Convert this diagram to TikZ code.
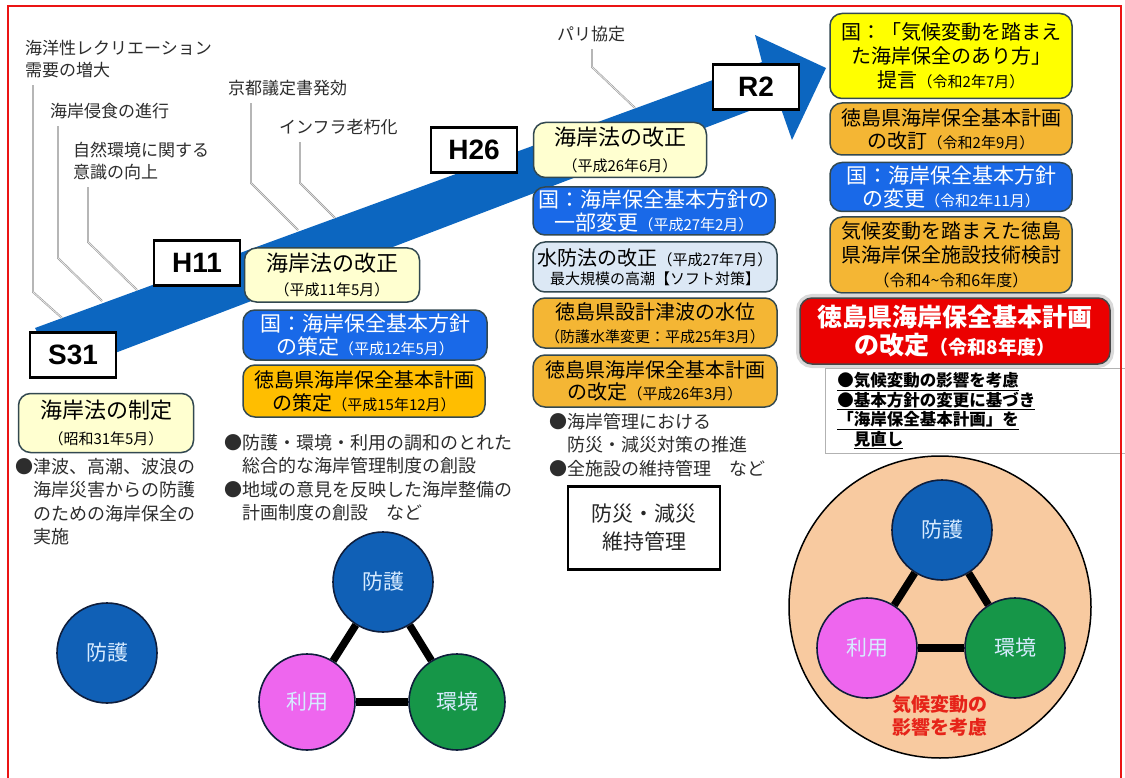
\documentclass[tikz,border=0pt]{standalone}
\usepackage{fontspec}
\setmainfont{Noto Sans CJK JP}
\newfontfamily\yearfont{Liberation Sans}
\usetikzlibrary{calc}

\definecolor{arrowblue}{RGB}{12,102,192}
\definecolor{framered}{RGB}{235,20,20}
\definecolor{lawyellow}{RGB}{255,255,208}
\definecolor{kuniblue}{RGB}{25,105,232}
\definecolor{kenorange}{RGB}{255,190,0}
\definecolor{kenorangeB}{RGB}{244,182,52}
\definecolor{suiboublue}{RGB}{220,232,245}
\definecolor{teigenyellow}{RGB}{255,255,0}
\definecolor{kaiteired}{RGB}{235,0,0}
\definecolor{boxline}{RGB}{50,72,80}
\definecolor{textgray}{RGB}{45,45,45}
\definecolor{bougoblue}{RGB}{16,96,182}
\definecolor{riyoupink}{RGB}{238,102,238}
\definecolor{kankyougreen}{RGB}{22,150,72}
\definecolor{kikoubeige}{RGB}{248,202,160}
\definecolor{circletext}{RGB}{215,235,255}
\definecolor{circleline}{RGB}{15,30,60}
\definecolor{kikoured}{RGB}{230,35,25}

\newcommand\fsz[2]{\fontsize{#1}{#2}\selectfont}

\begin{document}
\begin{tikzpicture}[x=1pt,y=-1pt,
  yearbox/.style={draw=black,line width=2.4pt,fill=white,minimum width=86pt,
    minimum height=45pt,inner sep=0pt,font=\yearfont\bfseries\fsz{28}{28}},
  planbox/.style={rounded corners=12pt,draw=boxline,line width=1.5pt,
    align=center,inner sep=0pt},
  trend/.style={font=\fsz{17}{22},text=textgray,align=left,inner sep=0pt,anchor=west},
  leader/.style={draw=gray!80,double=gray!15,double distance=0.7pt,line width=0.6pt},
  bullets/.style={font=\fsz{18}{23.5},text=textgray,align=left,inner sep=0pt,
    anchor=north west},
  value/.style={circle,draw=circleline,line width=1.6pt,minimum size=100pt,
    inner sep=0pt,text=circletext,font=\fsz{21}{21}},
  tie/.style={line width=7.5pt}]
\useasboundingbox (0,0) rectangle (1125,778);
\fill[white] (0,0) rectangle (1125,778);

% the time line
\fill[arrowblue] (35,328) -- (762,62) -- (755,35) -- (826,68) -- (792,140)
  -- (778,100) -- (60,374) -- cycle;

% background trends
\node[trend] (recreation) at (25,59) {海洋性レクリエーション\\需要の増大};
\node[trend] (erosion) at (50,111) {海岸侵食の進行};
\node[trend] (awareness) at (73,161) {自然環境に関する\\意識の向上};
\node[trend] (kyoto) at (228,88) {京都議定書発効};
\node[trend] (infra) at (279,127) {インフラ老朽化};
\node[trend] (paris) at (557,34) {パリ協定};

\coordinate (recreationBend) at (33,292);  \coordinate (recreationEnd) at (62,318);
\coordinate (erosionBend) at (58,258);     \coordinate (erosionEnd) at (102,301);
\coordinate (awarenessBend) at (88,242);   \coordinate (awarenessEnd) at (137,290);
\coordinate (kyotoBend) at (251,183);      \coordinate (kyotoEnd) at (298,230);
\coordinate (infraBend) at (300,183);      \coordinate (infraEnd) at (335,218);
\coordinate (parisBend) at (592,67);       \coordinate (parisEnd) at (635,108);

\foreach \t in {recreation,erosion,awareness,kyoto,infra,paris}
  \draw[leader] ($(\t.south -| \t Bend)+(0,7)$) -- (\t Bend) -- (\t End);

% years
\node[yearbox] (s31) at (73,355) {S31};
\node[yearbox] (h11) at (197,263) {H11};
\node[yearbox] (h26) at (474,150) {H26};
\node[yearbox] (r2) at (756,87) {R2};

% S31
\node[planbox,fill=lawyellow,minimum width=175pt,minimum height=59pt,font=\fsz{22}{26}]
  (lawS31) at (106,423) {海岸法の制定\\{\fsz{15}{16}（昭和31年5月）}};
\node[bullets] (aimS31) at (15,458)
  {●津波、高潮、波浪の\\\phantom{●}海岸災害からの防護\\\phantom{●}のための海岸保全の\\\phantom{●}実施};

% H11
\node[planbox,fill=lawyellow,minimum width=175pt,minimum height=54pt,font=\fsz{22}{24.5}]
  (lawH11) at (332,275) {海岸法の改正\\{\fsz{15}{16}（平成11年5月）}};
\node[planbox,fill=kuniblue,text=white,minimum width=244pt,minimum height=50pt,font=\fsz{21}{23}]
  (kuniH12) at (365,335) {国：海岸保全基本方針\\の策定{\fsz{15}{16}（平成12年5月）}};
\node[planbox,fill=kenorange,minimum width=242pt,minimum height=52pt,font=\fsz{20}{23}]
  (kenH15) at (364,391) {徳島県海岸保全基本計画\\の策定{\fsz{15}{16}（平成15年12月）}};
\node[bullets] (aimH11) at (224,434)
  {●防護・環境・利用の調和のとれた\\\phantom{●}総合的な海岸管理制度の創設\\●地域の意見を反映した海岸整備の\\\phantom{●}計画制度の創設　など};

% H26
\node[planbox,fill=lawyellow,minimum width=173pt,minimum height=55pt,font=\fsz{22}{25.5}]
  (lawH26) at (620,150) {海岸法の改正\\{\fsz{15}{16}（平成26年6月）}};
\node[planbox,fill=kuniblue,text=white,minimum width=242pt,minimum height=48pt,font=\fsz{21}{23}]
  (kuniH27) at (654,211) {国：海岸保全基本方針の\\一部変更{\fsz{15}{16}（平成27年2月）}};
\node[planbox,fill=suiboublue,minimum width=244pt,minimum height=50pt,font=\fsz{20}{19}]
  (suibouH27) at (655,267) {水防法の改正{\fsz{15}{16}（平成27年7月）}\\{\fsz{15}{17}最大規模の高潮【ソフト対策】}};
\node[planbox,fill=kenorangeB,minimum width=244pt,minimum height=50pt,font=\fsz{20}{23}]
  (tsunamiH25) at (655,323) {徳島県設計津波の水位\\{\fsz{15}{17}（防護水準変更：平成25年3月）}};
\node[planbox,fill=kenorangeB,minimum width=244pt,minimum height=52pt,font=\fsz{20}{22}]
  (kenH26) at (655,381) {徳島県海岸保全基本計画\\の改定{\fsz{15}{16}（平成26年3月）}};
\node[bullets] (aimH26) at (549,413)
  {●海岸管理における\\\phantom{●}防災・減災対策の推進\\●全施設の維持管理　など};
\node[draw=black,line width=2.4pt,minimum width=152pt,minimum height=83pt,align=center,
  text=black!85,font=\fsz{21}{28}] (dutyH26) at (644,528) {防災・減災\\維持管理};

% R2
\node[planbox,fill=teigenyellow,minimum width=242pt,minimum height=85pt,font=\fsz{20}{24}]
  (teigenR2) at (951,56) {国：「気候変動を踏まえ\\た海岸保全のあり方」\\提言{\fsz{15}{16}（令和2年7月）}};
\node[planbox,fill=kenorangeB,minimum width=242pt,minimum height=52pt,font=\fsz{20}{23}]
  (kenR2) at (951,129) {徳島県海岸保全基本計画\\の改訂{\fsz{15}{16}（令和2年9月）}};
\node[planbox,fill=kuniblue,text=white,minimum width=242pt,minimum height=49pt,font=\fsz{21}{23}]
  (kuniR2) at (951,187) {国：海岸保全基本方針\\の変更{\fsz{15}{16}（令和2年11月）}};
\node[planbox,fill=kenorangeB,minimum width=242pt,minimum height=76pt,font=\fsz{20}{24}]
  (kentouR6) at (951,255) {気候変動を踏まえた徳島\\県海岸保全施設技術検討\\{\fsz{16}{16}（令和4\textasciitilde 令和6年度）}};
\node[draw=gray!60,line width=0.8pt,fill=white,anchor=north west,text width=276pt,
  inner xsep=12pt,inner ysep=4pt,minimum height=85pt,align=left,text=black,
  font=\bfseries\fsz{16.5}{19.5}] (pointR8) at (825,368)
  {\underline{●気候変動の影響を考慮}\\\underline{●基本方針の変更に基づき}\\\underline{「海岸保全基本計画」を}\\\phantom{●}\underline{見直し}};
\node[planbox,fill=kaiteired,text=white,minimum width=310pt,minimum height=66pt,
  draw=gray!55!black,preaction={draw=gray!30,line width=8pt},
  font=\bfseries\fsz{25}{28}] (kaiteiR8) at (955,331)
  {徳島県海岸保全基本計画\\の改定{\fsz{19}{20}（令和8年度）}};

% protection, environment, use
\node[value,fill=bougoblue] (bougoS31) at (107,653) {防護};

\node[value,fill=bougoblue] (bougoH11) at (383,582) {防護};
\node[value,fill=riyoupink,minimum size=96pt] (riyouH11) at (307,702) {利用};
\node[value,fill=kankyougreen,minimum size=96pt] (kankyouH11) at (457,702) {環境};
\draw[tie] (bougoH11) -- (riyouH11);
\draw[tie] (riyouH11) -- (kankyouH11);
\draw[tie] (kankyouH11) -- (bougoH11);

\node[circle,draw=black,line width=1.5pt,fill=kikoubeige,minimum size=302pt] (kikouR8) at (940,607) {};
\node[value,fill=bougoblue] (bougoR8) at (942,530) {防護};
\node[value,fill=riyoupink] (riyouR8) at (867,648) {利用};
\node[value,fill=kankyougreen] (kankyouR8) at (1015,648) {環境};
\draw[tie] (bougoR8) -- (riyouR8);
\draw[tie] (riyouR8) -- (kankyouR8);
\draw[tie] (kankyouR8) -- (bougoR8);
\node[align=center,text=kikoured,font=\bfseries\fsz{19}{23}] (kikouNote) at (940,716) {気候変動の\\影響を考慮};

% frame
\draw[framered,line width=1.5pt] (8,800) -- (8,6) -- (1121,6) -- (1121,800);
\end{tikzpicture}
\end{document}
